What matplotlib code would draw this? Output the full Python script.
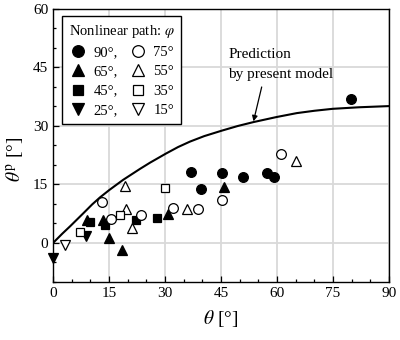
import matplotlib
matplotlib.use("Agg")
import matplotlib.pyplot as plt
from matplotlib.ticker import MultipleLocator

plt.rcParams['font.family'] = ['Liberation Serif', 'DejaVu Serif']
plt.rcParams['mathtext.fontset'] = 'stix'

# measured points, one list pair per loading path angle phi
x90 = [37.0, 39.6, 45.4, 51.0, 57.2, 59.2, 79.8]
y90 = [18.3, 13.8, 17.9, 16.8, 18.0, 16.8, 36.9]
x75 = [13.0, 15.6, 23.6, 32.2, 38.9, 45.4, 61.1]
y75 = [10.4, 6.2, 7.3, 8.9, 8.6, 11.0, 22.8]
x65 = [9.2, 13.5, 15.0, 18.6, 30.7, 45.9]
y65 = [5.9, 6.0, 1.4, -1.8, 7.4, 14.3]
x55 = [19.4, 19.6, 21.2, 36.0, 65.0]
y55 = [14.7, 8.6, 3.8, 8.7, 21.0]
x45 = [9.8, 14.0, 22.3, 27.8]
y45 = [5.4, 4.5, 6.0, 6.3]
x35 = [7.2, 18.0, 30.0]
y35 = [2.9, 7.3, 14.0]
x25 = [0.1, 8.8]
y25 = [-3.9, 1.9]
x15 = [3.2]
y15 = [-0.5]

# prediction curve
xm = [0, 2.5, 4.6, 8.1, 10.5, 12.6, 15.1, 18.8, 23.3, 26.0, 30.2, 33.5, 36.7,
      40.5, 45.2, 49.5, 53.7, 59.9, 65.3, 70.0, 74.9, 82.0, 90.0]
ym = [0, 2.4, 4.3, 7.6, 9.9, 11.7, 13.6, 16.2, 19.0, 20.6, 22.9, 24.6, 26.0,
      27.4, 28.8, 30.0, 31.0, 32.3, 33.3, 33.9, 34.4, 34.8, 35.1]

fig = plt.figure(figsize=(4.0, 3.4), dpi=100)
ax = fig.add_axes([0.1325, 0.1706, 0.84, 0.803])

ax.plot(xm, ym, color='black', lw=1.5, zorder=2)

ms = 7
kw = dict(linestyle='none', markersize=ms, markeredgewidth=0.9, clip_on=False, zorder=3)
skw = dict(linestyle='none', markersize=6.2, markeredgewidth=0.9, clip_on=False, zorder=3)
h90, = ax.plot(x90, y90, 'o', color='black', label='90°,', **kw)
h65, = ax.plot(x65, y65, '^', color='black', label='65°,', **kw)
h45, = ax.plot(x45, y45, 's', color='black', label='45°,', **skw)
h25, = ax.plot(x25, y25, 'v', color='black', label='25°,', **kw)
h75, = ax.plot(x75, y75, 'o', mfc='white', mec='black', label='75°', **kw)
h55, = ax.plot(x55, y55, '^', mfc='white', mec='black', label='55°', **kw)
h35, = ax.plot(x35, y35, 's', mfc='white', mec='black', label='35°', **skw)
h15, = ax.plot(x15, y15, 'v', mfc='white', mec='black', label='15°', **kw)

ax.set_xlim(0, 90)
ax.set_ylim(-10, 60)
ax.xaxis.set_major_locator(MultipleLocator(15))
ax.xaxis.set_minor_locator(MultipleLocator(5))
ax.yaxis.set_major_locator(MultipleLocator(15))
ax.yaxis.set_minor_locator(MultipleLocator(5))
ax.tick_params(which='both', direction='in', labelsize=11, width=0.9)
ax.tick_params(which='major', length=4)
ax.tick_params(which='minor', length=2.5)
ax.grid(True, which='major', color='#d9d9d9', lw=1.3, zorder=0)
ax.set_axisbelow(True)
for s in ax.spines.values():
    s.set_linewidth(1.0)

ax.set_xlabel(r'$\theta$ [°]', fontsize=14, labelpad=6)
ax.set_ylabel(r'$\theta^{\rm p}$ [°]', fontsize=14)
ax.yaxis.set_label_coords(-0.08, 0.45)

ax.text(46.9, 48.2, 'Prediction', fontsize=11, va='center', ha='left')
ax.text(46.9, 43.2, 'by present model', fontsize=11, va='center', ha='left')
ax.annotate('', xy=(53.7, 31.2), xytext=(55.9, 40.0),
            arrowprops=dict(arrowstyle='-|>', color='black', lw=0.9,
                            mutation_scale=8, shrinkA=0, shrinkB=0))

leg = ax.legend(handles=[h90, h65, h45, h25, h75, h55, h35, h15], ncol=2,
                title=r'Nonlinear path: $\varphi$', loc='upper left',
                bbox_to_anchor=(0.027, 0.974), borderaxespad=0,
                fontsize=10.5, title_fontsize=10.5, markerscale=1.2,
                frameon=True, fancybox=False, edgecolor='black', framealpha=1,
                handletextpad=0.4, columnspacing=0.75, labelspacing=0.42,
                handlelength=1.3, borderpad=0.45)
leg.get_frame().set_linewidth(1.0)

fig.savefig('out.png', dpi=100)
